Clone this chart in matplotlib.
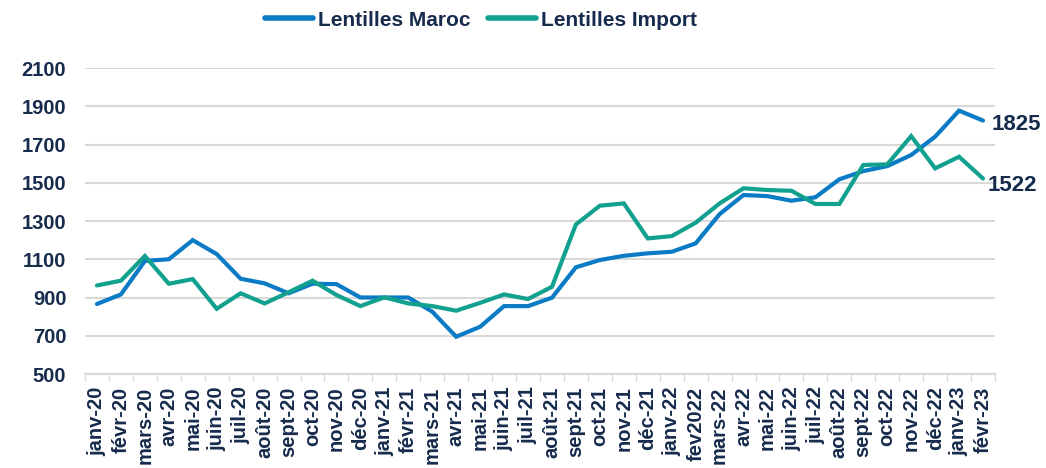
import matplotlib
matplotlib.use("Agg")
import matplotlib.pyplot as plt
import numpy as np

months = ["janv-20", "févr-20", "mars-20", "avr-20", "mai-20", "juin-20", "juil-20", "août-20",
          "sept-20", "oct-20", "nov-20", "déc-20", "janv-21", "févr-21", "mars-21", "avr-21",
          "mai-21", "juin-21", "juil-21", "août-21", "sept-21", "oct-21", "nov-21", "déc-21",
          "janv-22", "fev2022", "mars-22", "avr-22", "mai-22", "juin-22", "juil-22", "août-22",
          "sept-22", "oct-22", "nov-22", "déc-22", "janv-23", "févr-23"]

maroc = [866, 916, 1091, 1100, 1200, 1127, 998, 974, 922, 972, 970, 900, 900, 900,
         826, 695, 747, 855, 855, 899, 1058, 1096, 1118, 1131, 1139, 1183, 1336,
         1436, 1430, 1406, 1424, 1518, 1561, 1587, 1645, 1741, 1877, 1825]

imports = [963, 988, 1117, 972, 996, 841, 922, 869, 927, 988, 913, 855, 901, 869,
           855, 831, 872, 916, 892, 956, 1282, 1380, 1392, 1209, 1221, 1291, 1392,
           1471, 1462, 1458, 1389, 1389, 1593, 1596, 1744, 1575, 1636, 1522]

yticks = [500, 700, 900, 1100, 1300, 1500, 1700, 1900, 2100]

BLUE = "#0A7BC4"
GREEN = "#12A08F"
TXT = "#172B4D"
GRID = "#D9D9D9"

plt.rcParams['font.family'] = ['Liberation Sans', 'DejaVu Sans']

fig = plt.figure(figsize=(10.46, 4.68), dpi=100)
ax = fig.add_axes([85/1046, 1-374/468, 910/1046, 306/468])

x = np.arange(len(months))
ax.plot(x, maroc, color=BLUE, lw=3.0, label="Lentilles Maroc", solid_capstyle='round', solid_joinstyle='miter')
ax.plot(x, imports, color=GREEN, lw=3.0, label="Lentilles Import", solid_capstyle='round', solid_joinstyle='miter')

ax.set_xlim(-0.5, len(months) - 0.5)
ax.set_ylim(500, 2100)
ax.set_yticks(yticks)
ax.set_yticklabels([str(v) for v in yticks], fontsize=14.5, fontweight='bold', color=TXT)
ax.yaxis.grid(True, color=GRID, lw=1.5)
ax.set_axisbelow(True)
ax.tick_params(axis='y', length=0, pad=13.5)

ax.set_xticks(x)
ax.set_xticklabels(months, rotation=90, fontsize=14.5, fontweight='bold', color=TXT)
ax.set_xticks(np.arange(-0.5, len(months), 1), minor=True)
ax.tick_params(axis='x', which='major', length=0, pad=9)
ax.tick_params(axis='x', which='minor', length=5, color=GRID, width=1)

for s in ['top', 'right', 'left']:
    ax.spines[s].set_visible(False)
ax.spines['bottom'].set_color(GRID)
ax.spines['bottom'].set_linewidth(1.5)

ax.annotate(str(maroc[-1]), xy=(x[-1], maroc[-1]), xytext=(6, -3), textcoords='offset points',
            fontsize=16, fontweight='bold', color=TXT, va='center', ha='left', annotation_clip=False)
ax.annotate(str(imports[-1]), xy=(x[-1], imports[-1]), xytext=(3, -5), textcoords='offset points',
            fontsize=16, fontweight='bold', color=TXT, va='center', ha='left', annotation_clip=False)

leg = fig.legend(loc='center', bbox_to_anchor=(481/1046, 1-20/468), ncol=2, frameon=False,
                 prop={'size': 15, 'weight': 'bold'}, handlelength=2.3, handletextpad=0.25,
                 columnspacing=0.8)
for t in leg.get_texts():
    t.set_color(TXT)
for h in leg.get_lines():
    h.set_linewidth(4)
    h.set_solid_capstyle('round')

fig.savefig("out.png", dpi=100)
